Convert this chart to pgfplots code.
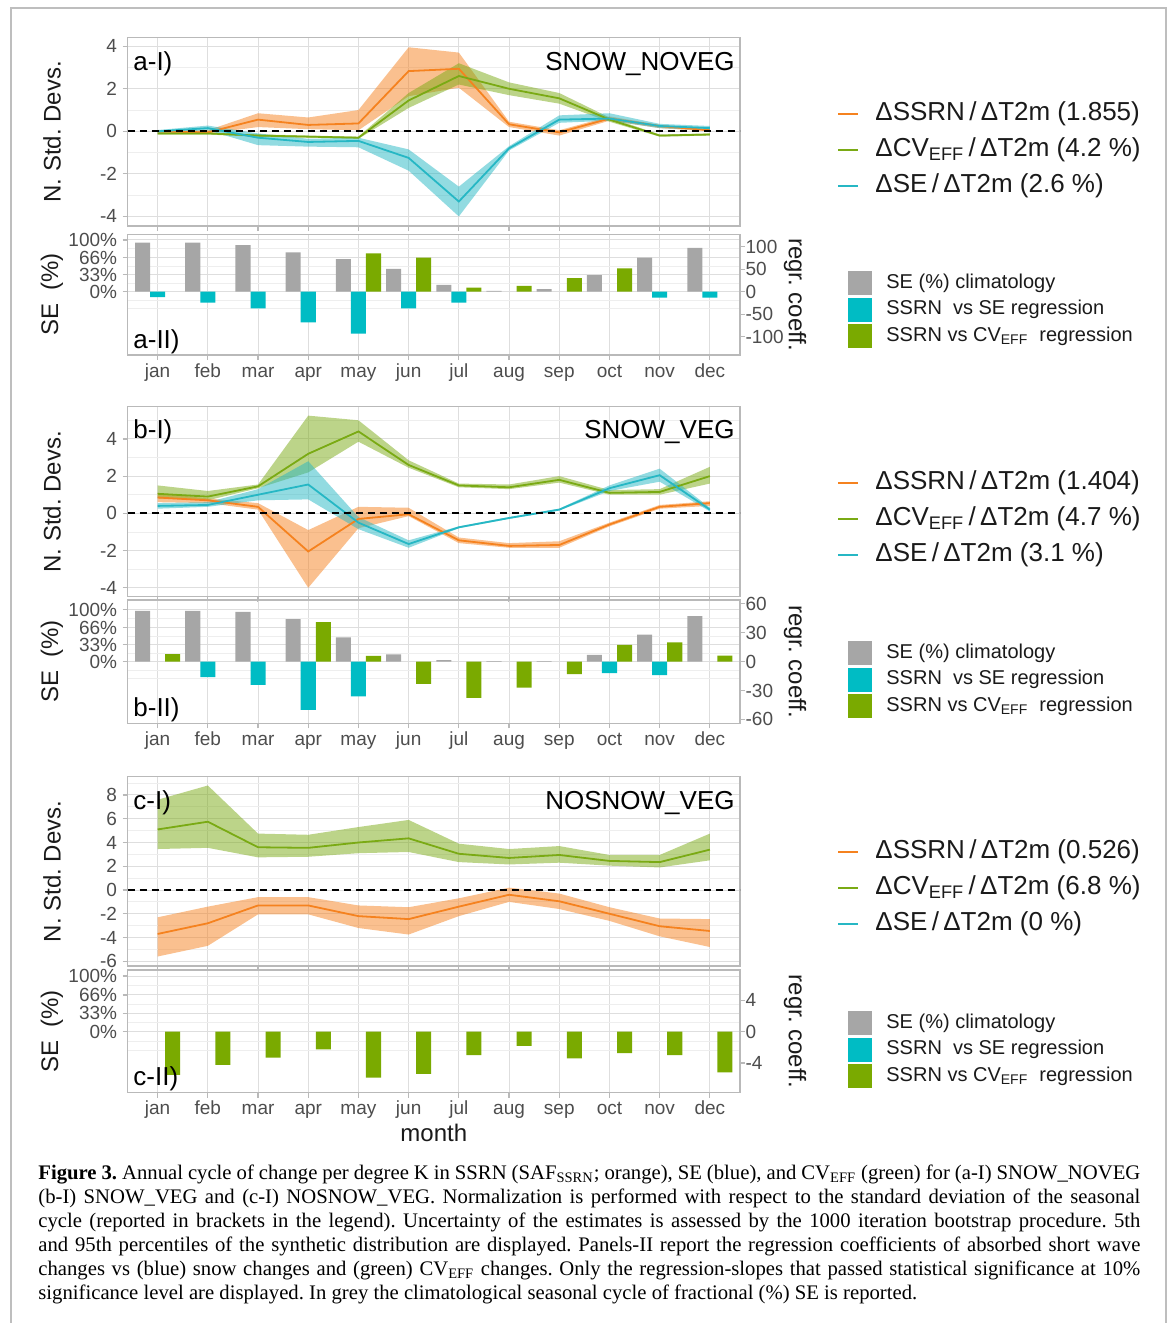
\documentclass[border=0pt]{standalone}
\usepackage{fontspec}
\setmainfont{Liberation Sans}
\newfontfamily\capfont{Liberation Serif}
\usepackage{pgfplots}
\pgfplotsset{compat=1.18}
\usepgfplotslibrary{fillbetween}
\usepackage{pgfplotstable}

\definecolor{cor}{RGB}{245,130,31}
\definecolor{cgr}{RGB}{122,170,20}
\definecolor{cbl}{RGB}{38,183,196}
\definecolor{bgray}{RGB}{166,166,166}
\definecolor{bblue}{RGB}{0,188,196}
\definecolor{bgreen}{RGB}{122,170,0}
\definecolor{gmaj}{RGB}{222,222,222}
\definecolor{gmin}{RGB}{238,238,238}
\definecolor{frame}{RGB}{185,185,185}
\definecolor{ticktxt}{RGB}{77,77,77}
\definecolor{txt}{RGB}{26,26,26}

\pgfplotstableread{
m s sl sh c cl ch e el eh
1 0.00 -0.10 0.05 -0.10 -0.15 -0.05 0.00 -0.06 0.06
2 -0.05 -0.10 0.05 -0.10 -0.15 -0.05 0.15 0.05 0.27
3 0.55 0.20 0.85 -0.20 -0.26 -0.14 -0.30 -0.65 -0.10
4 0.30 0.10 0.65 -0.25 -0.30 -0.20 -0.50 -0.72 -0.35
5 0.37 0.05 1.00 -0.30 -0.35 -0.25 -0.45 -0.75 -0.30
6 2.83 1.65 3.95 1.45 1.10 1.80 -1.25 -1.85 -0.85
7 2.94 2.05 3.70 2.60 2.20 3.20 -3.30 -4.00 -2.60
8 0.33 0.20 0.45 2.00 1.70 2.30 -0.80 -0.90 -0.70
9 -0.05 -0.20 0.05 1.55 1.30 1.80 0.55 0.40 0.75
10 0.60 0.50 0.70 0.55 0.45 0.65 0.60 0.50 0.85
11 0.25 0.15 0.30 -0.20 -0.25 -0.15 0.25 0.15 0.35
12 0.05 0.00 0.10 -0.15 -0.20 -0.10 0.15 0.05 0.25
}\dA
\pgfplotstableread{
m s sl sh c cl ch e el eh
1 0.85 0.60 1.10 1.05 0.80 1.50 0.40 0.25 0.55
2 0.70 0.55 0.80 0.90 0.70 1.20 0.45 0.35 0.60
3 0.35 0.20 0.55 1.45 1.35 1.55 1.00 0.70 1.30
4 -2.05 -4.00 -0.90 3.20 2.20 5.25 1.55 0.75 2.80
5 -0.30 -0.80 0.35 4.40 3.85 5.00 -0.50 -0.85 -0.20
6 -0.05 -0.15 0.30 2.60 2.45 2.85 -1.65 -1.85 -1.45
7 -1.45 -1.60 -1.30 1.50 1.40 1.60 -0.75 -0.80 -0.70
8 -1.75 -1.85 -1.60 1.40 1.30 1.55 -0.25 -0.30 -0.20
9 -1.70 -1.85 -1.50 1.80 1.65 2.00 0.20 0.15 0.25
10 -0.60 -0.70 -0.50 1.10 1.00 1.25 1.35 1.20 1.50
11 0.35 0.25 0.45 1.15 1.00 1.30 2.05 1.70 2.40
12 0.55 0.40 0.65 2.00 1.60 2.50 0.20 0.10 0.30
}\dB
\pgfplotstableread{
m s sl sh c cl ch
1 -3.70 -5.60 -2.30 5.10 3.45 7.60
2 -2.80 -4.70 -1.40 5.75 3.55 8.80
3 -1.30 -2.05 -0.60 3.60 2.75 4.75
4 -1.30 -2.05 -0.60 3.55 2.80 4.65
5 -2.20 -3.20 -1.30 4.00 3.10 5.30
6 -2.45 -3.75 -1.45 4.35 3.20 5.90
7 -1.40 -2.20 -0.70 3.05 2.35 3.90
8 -0.40 -1.00 0.20 2.70 2.15 3.45
9 -0.95 -1.60 -0.30 2.95 2.30 3.70
10 -2.00 -2.60 -1.45 2.45 2.05 2.95
11 -3.05 -3.90 -2.40 2.35 1.90 2.95
12 -3.45 -4.80 -2.45 3.40 2.50 4.75
}\dC
\pgfplotstableread{
m g
1 95
2 95
3 90
4 76
5 63
6 44
7 13
8 1.5
9 5
10 32
11 66
12 85
}\gA
\pgfplotstableread{
m g
1 98
2 98
3 96
4 82
5 47
6 14
7 3
8 0.8
9 1
10 13
11 52
12 88
}\gB

\pgfplotsset{
  pbase/.style={
    scale only axis, width=306.25pt, xmin=0.4, xmax=12.6,
    anchor=north west,
    xtick={1,2,...,12},
    xtick pos=bottom, ytick pos=left,
    tick align=outside,
    major tick length=2.5pt, minor tick length=0pt,
    axis line style={draw=frame, line width=0.6pt},
    tick style={draw=frame, line width=0.6pt},
    xmajorgrids, ymajorgrids, yminorgrids,
    major grid style={draw=gmaj, line width=0.5pt},
    minor grid style={draw=gmin, line width=0.4pt},
    tick label style={font=\fontsize{9.5}{10}\selectfont, text=ticktxt},
    xticklabel style={text height=7pt, text depth=2pt, yshift=2pt},
    yticklabel style={xshift=0.8pt},
    /pgf/number format/assume math mode=true,
    scaled y ticks=false,
  },
  rbase/.style={
    scale only axis, width=306.25pt, xmin=0.4, xmax=12.6,
    anchor=north west,
    axis x line=none, axis y line*=right, ytick pos=right,
    tick align=outside,
    major tick length=2.5pt, minor tick length=0pt,
    axis line style={draw=frame, line width=0.6pt},
    tick style={draw=frame, line width=0.6pt},
    tick label style={font=\fontsize{9.5}{10}\selectfont, text=ticktxt},
    yticklabel style={xshift=-3.2pt},
    /pgf/number format/assume math mode=true,
    scaled y ticks=false,
    ybar, bar width=0.3,
  },
  mlabels/.style={xticklabels={jan,feb,mar,apr,may,jun,jul,aug,sep,oct,nov,dec}},
}

\newcommand{\band}[5]{%
  \addplot[draw=none, forget plot, name path=#5H] table[x=m,y=#3]{#1};
  \addplot[draw=none, forget plot, name path=#5L] table[x=m,y=#2]{#1};
  \addplot[fill=#4, fill opacity=0.5, draw=none, forget plot] fill between[of=#5H and #5L];
}
\newcommand{\zeroline}{\addplot[black, line width=1pt, dash pattern=on 3.5pt off 2.5pt] coordinates {(0.4,0) (12.6,0)};}
\newcommand{\lineleg}[3]{%
  \draw[#2, line width=0.8pt] (419pt,#1) -- (429pt,#1);
  \node[anchor=west, inner sep=0pt, text=txt, font=\fontsize{13}{15}\selectfont] at (437.5pt,#1) {#3};
}
\newcommand{\barleg}[3]{%
  \fill[#2] (424pt,{#1+6pt}) rectangle (436pt,{#1-6pt});
  \node[anchor=west, inner sep=0pt, text=txt, font=\fontsize{10}{12}\selectfont] at (443pt,#1) {#3};
}
\newcommand{\plab}[3]{\node[anchor=base west, inner sep=0pt, font=\fontsize{13}{15}\selectfont] at (66.5pt,#1) {#2};
  \node[anchor=base east, inner sep=0pt, font=\fontsize{13}{15}\selectfont] at (367.5pt,#1) {#3};}
\newcommand{\slab}[2]{\node[anchor=base west, inner sep=0pt, font=\fontsize{13}{15}\selectfont] at (66.5pt,#1) {#2};}
\newcommand{\ylab}[3]{\node[rotate=#3, text=txt, font=\fontsize{12}{14}\selectfont] at (#1) {#2};}

\begin{document}
\frenchspacing
\begin{tikzpicture}
\draw[color={rgb,255:red,190;green,190;blue,190}, line width=1pt] (5.5pt,-661.5pt) -- (5.5pt,-4.15pt) -- (583pt,-4.15pt) -- (583pt,-661.5pt);

% ---------------- a-I
\begin{axis}[pbase, at={(63.75pt,-18.85pt)}, height=94.15pt, ymin=-4.45, ymax=4.4,
  ytick={-4,-2,0,2,4}, minor ytick={-3,-1,1,3}, xticklabels={}]
\band{\dA}{sl}{sh}{cor}{aS}
\band{\dA}{cl}{ch}{cgr}{aC}
\band{\dA}{el}{eh}{cbl}{aE}
\addplot[cor, line width=0.9pt] table[x=m,y=s]{\dA};
\addplot[cgr, line width=0.9pt] table[x=m,y=c]{\dA};
\addplot[cbl, line width=0.9pt] table[x=m,y=e]{\dA};
\zeroline
\end{axis}
% ---------------- a-II
\begin{axis}[pbase, mlabels, at={(63.75pt,-117.15pt)}, height=60.35pt, ymin=-122.4, ymax=111,
  ytick={0,33,66,100}, yticklabels={0\%,33\%,66\%,100\%}, minor ytick={-33,-16.5,16.5,49.5,83},
  ybar, bar width=0.3]
\addplot[fill=bgray, draw=none, bar shift=-0.3] table[x=m,y=g]{\gA};
\end{axis}
\begin{axis}[rbase, at={(63.75pt,-117.15pt)}, height=60.35pt, ymin=-140.7, ymax=127.6,
  ytick={-100,-50,0,50,100}]
\addplot[fill=bblue, draw=none, bar shift=0] coordinates {(1,-12) (2,-24) (3,-37) (4,-68) (5,-93) (6,-37) (7,-24) (11,-13) (12,-13)};
\addplot[fill=bgreen, draw=none, bar shift=0.3] coordinates {(5,85) (6,76) (7,9) (8,13) (9,30) (10,52)};
\end{axis}

% ---------------- b-I
\begin{axis}[pbase, at={(63.75pt,-203.35pt)}, height=95pt, ymin=-4.48, ymax=5.73,
  ytick={-4,-2,0,2,4}, minor ytick={-3,-1,1,3,5}, xticklabels={}]
\band{\dB}{sl}{sh}{cor}{bS}
\band{\dB}{cl}{ch}{cgr}{bC}
\band{\dB}{el}{eh}{cbl}{bE}
\addplot[cor, line width=0.9pt] table[x=m,y=s]{\dB};
\addplot[cgr, line width=0.9pt] table[x=m,y=c]{\dB};
\addplot[cbl, line width=0.9pt] table[x=m,y=e]{\dB};
\zeroline
\end{axis}
% ---------------- b-II
\begin{axis}[pbase, mlabels, at={(63.75pt,-300pt)}, height=61.65pt, ymin=-119, ymax=119,
  ytick={0,33,66,100}, yticklabels={0\%,33\%,66\%,100\%}, minor ytick={-33,-16.5,16.5,49.5,83},
  ybar, bar width=0.3]
\addplot[fill=bgray, draw=none, bar shift=-0.3] table[x=m,y=g]{\gB};
\end{axis}
\begin{axis}[rbase, at={(63.75pt,-300pt)}, height=61.65pt, ymin=-64, ymax=64,
  ytick={-60,-30,0,30,60}]
\addplot[fill=bblue, draw=none, bar shift=0] coordinates {(2,-16) (3,-24) (4,-50) (5,-36) (10,-12) (11,-14)};
\addplot[fill=bgreen, draw=none, bar shift=0.3] coordinates {(1,7.7) (4,41) (5,6) (6,-23) (7,-37.5) (8,-27) (9,-13) (10,17.5) (11,20) (12,6.3)};
\end{axis}

% ---------------- c-I
\begin{axis}[pbase, at={(63.75pt,-388.35pt)}, height=94.65pt, ymin=-6.4, ymax=9.54,
  ytick={-6,-4,-2,0,2,4,6,8}, minor ytick={-5,-3,-1,1,3,5,7,9}, xticklabels={}]
\band{\dC}{sl}{sh}{cor}{cS}
\band{\dC}{cl}{ch}{cgr}{cC}
\addplot[cor, line width=0.9pt] table[x=m,y=s]{\dC};
\addplot[cgr, line width=0.9pt] table[x=m,y=c]{\dC};
\zeroline
\end{axis}
% ---------------- c-II
\begin{axis}[pbase, mlabels, at={(63.75pt,-485pt)}, height=61.35pt, ymin=-109.5, ymax=110.8,
  ytick={0,33,66,100}, yticklabels={0\%,33\%,66\%,100\%}, minor ytick={-33,-16.5,16.5,49.5,83}]
\addplot[draw=none, forget plot] coordinates {(1,0) (12,0)};
\end{axis}
\begin{axis}[rbase, at={(63.75pt,-485pt)}, height=61.35pt, ymin=-7.79, ymax=7.88,
  ytick={-4,0,4}]
\addplot[fill=bgreen, draw=none, bar shift=0.3] coordinates {(1,-5.5) (2,-4.25) (3,-3.3) (4,-2.25) (5,-5.85) (6,-5.4) (7,-3.0) (8,-1.8) (9,-3.4) (10,-2.75) (11,-3.0) (12,-5.2)};
\end{axis}

% panel labels
\plab{-35pt}{a-I)}{SNOW\_NOVEG}
\slab{-174pt}{a-II)}
\plab{-219.35pt}{b-I)}{SNOW\_VEG}
\slab{-358.15pt}{b-II)}
\plab{-404.5pt}{c-I)}{NOSNOW\_VEG}
\slab{-542.85pt}{c-II)}

% axis titles
\ylab{26pt,-65.9pt}{N. Std. Devs.}{90}
\ylab{26pt,-147.3pt}{SE\ \ (\%)}{90}
\ylab{397.5pt,-147.3pt}{regr. coeff.}{-90}
\ylab{26pt,-250.85pt}{N. Std. Devs.}{90}
\ylab{26pt,-330.8pt}{SE\ \ (\%)}{90}
\ylab{397.5pt,-330.8pt}{regr. coeff.}{-90}
\ylab{26pt,-435.7pt}{N. Std. Devs.}{90}
\ylab{26pt,-515.7pt}{SE\ \ (\%)}{90}
\ylab{397.5pt,-515.7pt}{regr. coeff.}{-90}
\node[text=txt, font=\fontsize{12}{14}\selectfont] at (216.9pt,-566.5pt) {month};

% legends
\lineleg{-57pt}{cor}{ΔSSRN\,/\,ΔT2m (1.855)}
\lineleg{-75pt}{cgr}{ΔCV\textsubscript{EFF}\,/\,ΔT2m (4.2 \%)}
\lineleg{-93pt}{cbl}{ΔSE\,/\,ΔT2m (2.6 \%)}
\barleg{-141.5pt}{bgray}{SE (\%) climatology}
\barleg{-154.75pt}{bblue}{SSRN\ \ vs SE regression}
\barleg{-168pt}{bgreen}{SSRN vs CV\textsubscript{EFF}\ \ regression}

\lineleg{-241.5pt}{cor}{ΔSSRN\,/\,ΔT2m (1.404)}
\lineleg{-259.5pt}{cgr}{ΔCV\textsubscript{EFF}\,/\,ΔT2m (4.7 \%)}
\lineleg{-277.5pt}{cbl}{ΔSE\,/\,ΔT2m (3.1 \%)}
\barleg{-326.5pt}{bgray}{SE (\%) climatology}
\barleg{-339.75pt}{bblue}{SSRN\ \ vs SE regression}
\barleg{-353pt}{bgreen}{SSRN vs CV\textsubscript{EFF}\ \ regression}

\lineleg{-426pt}{cor}{ΔSSRN\,/\,ΔT2m (0.526)}
\lineleg{-444pt}{cgr}{ΔCV\textsubscript{EFF}\,/\,ΔT2m (6.8 \%)}
\lineleg{-462pt}{cbl}{ΔSE\,/\,ΔT2m (0 \%)}
\barleg{-511.5pt}{bgray}{SE (\%) climatology}
\barleg{-524.75pt}{bblue}{SSRN\ \ vs SE regression}
\barleg{-538pt}{bgreen}{SSRN vs CV\textsubscript{EFF}\ \ regression}

% caption
\begin{scope}[every node/.style={anchor=base west, inner sep=0pt, font=\capfont\fontsize{10.35}{12}\selectfont}]
\node at (19pt,-589.5pt) {\makebox[551pt][s]{\textbf{Figure 3.} Annual cycle of change per degree K in SSRN (SAF\textsubscript{SSRN}; orange), SE (blue), and CV\textsubscript{EFF} (green) for (a-I) SNOW\_NOVEG}};
\node at (19pt,-601.5pt) {\makebox[551pt][s]{(b-I) SNOW\_VEG and (c-I) NOSNOW\_VEG. Normalization is performed with respect to the standard deviation of the seasonal}};
\node at (19pt,-613.5pt) {\makebox[551pt][s]{cycle (reported in brackets in the legend). Uncertainty of the estimates is assessed by the 1000 iteration bootstrap procedure. 5th}};
\node at (19pt,-625.5pt) {\makebox[551pt][s]{and 95th percentiles of the synthetic distribution are displayed. Panels-II report the regression coefficients of absorbed short wave}};
\node at (19pt,-637.5pt) {\makebox[551pt][s]{changes vs (blue) snow changes and (green) CV\textsubscript{EFF} changes. Only the regression-slopes that passed statistical significance at 10\%}};
\node at (19pt,-649.5pt) {significance level are displayed. In grey the climatological seasonal cycle of fractional (\%) SE is reported.};
\end{scope}
\pgfresetboundingbox
\useasboundingbox (0,0) rectangle (586.5pt,-661.5pt);
\end{tikzpicture}
\end{document}
